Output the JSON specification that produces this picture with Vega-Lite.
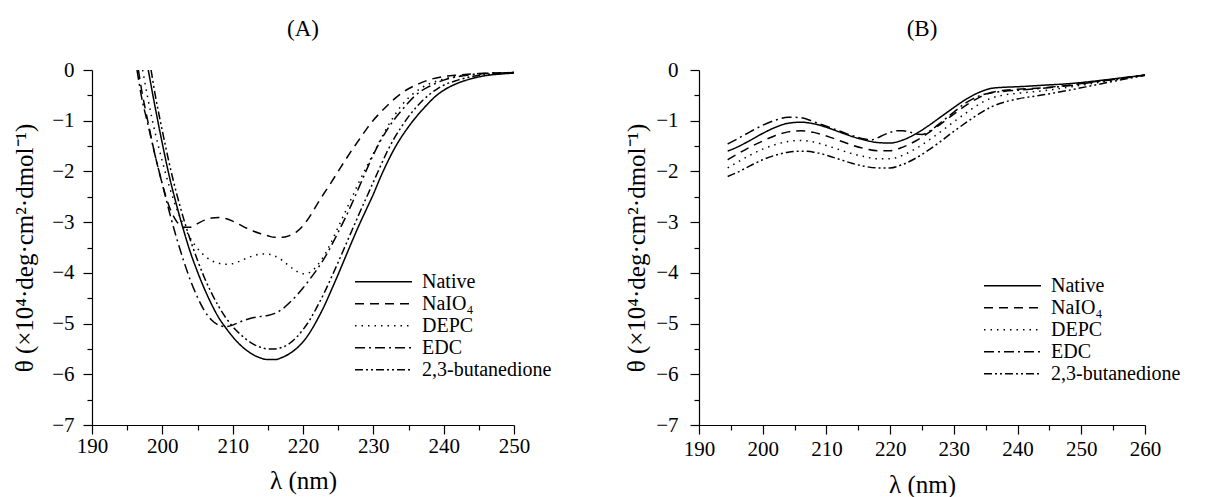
{
  "$schema": "https://vega.github.io/schema/vega-lite/v6.json",
  "padding": {"left": 12, "top": 18, "right": 5, "bottom": 0},
  "config": {
    "font": "Liberation Serif",
    "view": {"stroke": null},
    "axis": {"labelFont": "Liberation Serif", "labelFontSize": 21, "labelColor": "black", "titleFont": "Liberation Serif", "titleFontSize": 25, "titleFontWeight": "normal", "titleColor": "black", "domainColor": "black", "tickColor": "black", "domainWidth": 1.2, "tickWidth": 1.2, "grid": false},
    "legend": {"labelFont": "Liberation Serif", "labelFontSize": 20, "labelColor": "black", "symbolType": "stroke", "symbolSize": 3250, "symbolStrokeWidth": 1.4, "symbolStrokeColor": "black", "labelOffset": 9, "rowPadding": 0, "padding": 0, "clipHeight": 21.5},
    "title": {"font": "Liberation Serif", "fontSize": 23, "fontWeight": "normal", "color": "black", "offset": 18}
  },
  "datasets": {
    "a": [
      {"s": "Native", "wl": 198.0, "t": 0}, {"s": "Native", "wl": 199, "t": -0.75}, {"s": "Native", "wl": 200, "t": -1.45}, {"s": "Native", "wl": 201, "t": -2.1}, {"s": "Native", "wl": 202, "t": -2.65}, {"s": "Native", "wl": 203, "t": -3.15}, {"s": "Native", "wl": 204, "t": -3.6}, {"s": "Native", "wl": 205, "t": -3.98}, {"s": "Native", "wl": 206, "t": -4.32}, {"s": "Native", "wl": 207, "t": -4.62}, {"s": "Native", "wl": 208, "t": -4.88}, {"s": "Native", "wl": 209, "t": -5.08}, {"s": "Native", "wl": 210, "t": -5.26}, {"s": "Native", "wl": 211, "t": -5.41}, {"s": "Native", "wl": 212, "t": -5.53}, {"s": "Native", "wl": 213, "t": -5.62}, {"s": "Native", "wl": 214, "t": -5.68}, {"s": "Native", "wl": 215, "t": -5.71}, {"s": "Native", "wl": 216, "t": -5.71}, {"s": "Native", "wl": 217, "t": -5.67}, {"s": "Native", "wl": 218, "t": -5.6}, {"s": "Native", "wl": 219, "t": -5.5}, {"s": "Native", "wl": 220, "t": -5.36}, {"s": "Native", "wl": 221, "t": -5.17}, {"s": "Native", "wl": 222, "t": -4.93}, {"s": "Native", "wl": 223, "t": -4.66}, {"s": "Native", "wl": 224, "t": -4.35}, {"s": "Native", "wl": 225, "t": -4.03}, {"s": "Native", "wl": 226, "t": -3.7}, {"s": "Native", "wl": 227, "t": -3.37}, {"s": "Native", "wl": 228, "t": -3.05}, {"s": "Native", "wl": 229, "t": -2.75}, {"s": "Native", "wl": 230, "t": -2.45}, {"s": "Native", "wl": 231, "t": -2.12}, {"s": "Native", "wl": 232, "t": -1.82}, {"s": "Native", "wl": 233, "t": -1.55}, {"s": "Native", "wl": 234, "t": -1.32}, {"s": "Native", "wl": 235, "t": -1.12}, {"s": "Native", "wl": 236, "t": -0.94}, {"s": "Native", "wl": 237, "t": -0.78}, {"s": "Native", "wl": 238, "t": -0.63}, {"s": "Native", "wl": 239, "t": -0.5}, {"s": "Native", "wl": 240, "t": -0.4}, {"s": "Native", "wl": 242, "t": -0.26}, {"s": "Native", "wl": 244, "t": -0.17}, {"s": "Native", "wl": 246, "t": -0.11}, {"s": "Native", "wl": 248, "t": -0.08}, {"s": "Native", "wl": 250, "t": -0.06},

      {"s": "NaIO₄", "wl": 196.6, "t": 0}, {"s": "NaIO₄", "wl": 197, "t": -0.35}, {"s": "NaIO₄", "wl": 198, "t": -1.05}, {"s": "NaIO₄", "wl": 199, "t": -1.7}, {"s": "NaIO₄", "wl": 200, "t": -2.25}, {"s": "NaIO₄", "wl": 201, "t": -2.7}, {"s": "NaIO₄", "wl": 202, "t": -2.98}, {"s": "NaIO₄", "wl": 203, "t": -3.1}, {"s": "NaIO₄", "wl": 204, "t": -3.1}, {"s": "NaIO₄", "wl": 205, "t": -3.03}, {"s": "NaIO₄", "wl": 206, "t": -2.96}, {"s": "NaIO₄", "wl": 207, "t": -2.92}, {"s": "NaIO₄", "wl": 208, "t": -2.91}, {"s": "NaIO₄", "wl": 209, "t": -2.93}, {"s": "NaIO₄", "wl": 210, "t": -2.98}, {"s": "NaIO₄", "wl": 211, "t": -3.05}, {"s": "NaIO₄", "wl": 212, "t": -3.12}, {"s": "NaIO₄", "wl": 213, "t": -3.18}, {"s": "NaIO₄", "wl": 214, "t": -3.23}, {"s": "NaIO₄", "wl": 215, "t": -3.27}, {"s": "NaIO₄", "wl": 216, "t": -3.3}, {"s": "NaIO₄", "wl": 217, "t": -3.3}, {"s": "NaIO₄", "wl": 218, "t": -3.27}, {"s": "NaIO₄", "wl": 219, "t": -3.2}, {"s": "NaIO₄", "wl": 220, "t": -3.07}, {"s": "NaIO₄", "wl": 221, "t": -2.88}, {"s": "NaIO₄", "wl": 222, "t": -2.65}, {"s": "NaIO₄", "wl": 223, "t": -2.43}, {"s": "NaIO₄", "wl": 224, "t": -2.22}, {"s": "NaIO₄", "wl": 225, "t": -2.0}, {"s": "NaIO₄", "wl": 226, "t": -1.78}, {"s": "NaIO₄", "wl": 227, "t": -1.57}, {"s": "NaIO₄", "wl": 228, "t": -1.37}, {"s": "NaIO₄", "wl": 229, "t": -1.17}, {"s": "NaIO₄", "wl": 230, "t": -0.99}, {"s": "NaIO₄", "wl": 231, "t": -0.84}, {"s": "NaIO₄", "wl": 232, "t": -0.7}, {"s": "NaIO₄", "wl": 233, "t": -0.57}, {"s": "NaIO₄", "wl": 234, "t": -0.46}, {"s": "NaIO₄", "wl": 235, "t": -0.37}, {"s": "NaIO₄", "wl": 236, "t": -0.3}, {"s": "NaIO₄", "wl": 237, "t": -0.24}, {"s": "NaIO₄", "wl": 238, "t": -0.19}, {"s": "NaIO₄", "wl": 240, "t": -0.13}, {"s": "NaIO₄", "wl": 242, "t": -0.1}, {"s": "NaIO₄", "wl": 245, "t": -0.07}, {"s": "NaIO₄", "wl": 250, "t": -0.05},

      {"s": "DEPC", "wl": 197.2, "t": 0}, {"s": "DEPC", "wl": 198, "t": -0.6}, {"s": "DEPC", "wl": 199, "t": -1.25}, {"s": "DEPC", "wl": 200, "t": -1.8}, {"s": "DEPC", "wl": 201, "t": -2.3}, {"s": "DEPC", "wl": 202, "t": -2.72}, {"s": "DEPC", "wl": 203, "t": -3.05}, {"s": "DEPC", "wl": 204, "t": -3.32}, {"s": "DEPC", "wl": 205, "t": -3.52}, {"s": "DEPC", "wl": 206, "t": -3.66}, {"s": "DEPC", "wl": 207, "t": -3.76}, {"s": "DEPC", "wl": 208, "t": -3.81}, {"s": "DEPC", "wl": 209, "t": -3.83}, {"s": "DEPC", "wl": 210, "t": -3.82}, {"s": "DEPC", "wl": 211, "t": -3.77}, {"s": "DEPC", "wl": 212, "t": -3.71}, {"s": "DEPC", "wl": 213, "t": -3.66}, {"s": "DEPC", "wl": 214, "t": -3.63}, {"s": "DEPC", "wl": 215, "t": -3.63}, {"s": "DEPC", "wl": 216, "t": -3.67}, {"s": "DEPC", "wl": 217, "t": -3.75}, {"s": "DEPC", "wl": 218, "t": -3.86}, {"s": "DEPC", "wl": 219, "t": -3.96}, {"s": "DEPC", "wl": 220, "t": -4.02}, {"s": "DEPC", "wl": 221, "t": -3.99}, {"s": "DEPC", "wl": 222, "t": -3.86}, {"s": "DEPC", "wl": 223, "t": -3.66}, {"s": "DEPC", "wl": 224, "t": -3.4}, {"s": "DEPC", "wl": 225, "t": -3.1}, {"s": "DEPC", "wl": 226, "t": -2.8}, {"s": "DEPC", "wl": 227, "t": -2.5}, {"s": "DEPC", "wl": 228, "t": -2.2}, {"s": "DEPC", "wl": 229, "t": -1.92}, {"s": "DEPC", "wl": 230, "t": -1.65}, {"s": "DEPC", "wl": 231, "t": -1.38}, {"s": "DEPC", "wl": 232, "t": -1.12}, {"s": "DEPC", "wl": 233, "t": -0.9}, {"s": "DEPC", "wl": 234, "t": -0.7}, {"s": "DEPC", "wl": 235, "t": -0.55}, {"s": "DEPC", "wl": 236, "t": -0.43}, {"s": "DEPC", "wl": 237, "t": -0.34}, {"s": "DEPC", "wl": 238, "t": -0.27}, {"s": "DEPC", "wl": 240, "t": -0.18}, {"s": "DEPC", "wl": 242, "t": -0.12}, {"s": "DEPC", "wl": 245, "t": -0.08}, {"s": "DEPC", "wl": 250, "t": -0.05},

      {"s": "EDC", "wl": 196.4, "t": 0}, {"s": "EDC", "wl": 197, "t": -0.5}, {"s": "EDC", "wl": 198, "t": -1.1}, {"s": "EDC", "wl": 199, "t": -1.7}, {"s": "EDC", "wl": 200, "t": -2.25}, {"s": "EDC", "wl": 201, "t": -2.8}, {"s": "EDC", "wl": 202, "t": -3.3}, {"s": "EDC", "wl": 203, "t": -3.75}, {"s": "EDC", "wl": 204, "t": -4.15}, {"s": "EDC", "wl": 205, "t": -4.48}, {"s": "EDC", "wl": 206, "t": -4.75}, {"s": "EDC", "wl": 207, "t": -4.93}, {"s": "EDC", "wl": 208, "t": -5.03}, {"s": "EDC", "wl": 209, "t": -5.06}, {"s": "EDC", "wl": 210, "t": -5.03}, {"s": "EDC", "wl": 211, "t": -4.97}, {"s": "EDC", "wl": 212, "t": -4.92}, {"s": "EDC", "wl": 213, "t": -4.88}, {"s": "EDC", "wl": 214, "t": -4.86}, {"s": "EDC", "wl": 215, "t": -4.84}, {"s": "EDC", "wl": 216, "t": -4.8}, {"s": "EDC", "wl": 217, "t": -4.72}, {"s": "EDC", "wl": 218, "t": -4.6}, {"s": "EDC", "wl": 219, "t": -4.46}, {"s": "EDC", "wl": 220, "t": -4.3}, {"s": "EDC", "wl": 221, "t": -4.12}, {"s": "EDC", "wl": 222, "t": -3.93}, {"s": "EDC", "wl": 223, "t": -3.72}, {"s": "EDC", "wl": 224, "t": -3.47}, {"s": "EDC", "wl": 225, "t": -3.2}, {"s": "EDC", "wl": 226, "t": -2.92}, {"s": "EDC", "wl": 227, "t": -2.62}, {"s": "EDC", "wl": 228, "t": -2.3}, {"s": "EDC", "wl": 229, "t": -1.98}, {"s": "EDC", "wl": 230, "t": -1.67}, {"s": "EDC", "wl": 231, "t": -1.4}, {"s": "EDC", "wl": 232, "t": -1.17}, {"s": "EDC", "wl": 233, "t": -0.97}, {"s": "EDC", "wl": 234, "t": -0.8}, {"s": "EDC", "wl": 235, "t": -0.64}, {"s": "EDC", "wl": 236, "t": -0.5}, {"s": "EDC", "wl": 238, "t": -0.32}, {"s": "EDC", "wl": 240, "t": -0.2}, {"s": "EDC", "wl": 242, "t": -0.13}, {"s": "EDC", "wl": 245, "t": -0.08}, {"s": "EDC", "wl": 250, "t": -0.05},

      {"s": "2,3-butanedione", "wl": 198.4, "t": 0}, {"s": "2,3-butanedione", "wl": 199, "t": -0.5}, {"s": "2,3-butanedione", "wl": 200, "t": -1.2}, {"s": "2,3-butanedione", "wl": 201, "t": -1.85}, {"s": "2,3-butanedione", "wl": 202, "t": -2.42}, {"s": "2,3-butanedione", "wl": 203, "t": -2.92}, {"s": "2,3-butanedione", "wl": 204, "t": -3.36}, {"s": "2,3-butanedione", "wl": 205, "t": -3.75}, {"s": "2,3-butanedione", "wl": 206, "t": -4.1}, {"s": "2,3-butanedione", "wl": 207, "t": -4.4}, {"s": "2,3-butanedione", "wl": 208, "t": -4.66}, {"s": "2,3-butanedione", "wl": 209, "t": -4.88}, {"s": "2,3-butanedione", "wl": 210, "t": -5.06}, {"s": "2,3-butanedione", "wl": 211, "t": -5.2}, {"s": "2,3-butanedione", "wl": 212, "t": -5.32}, {"s": "2,3-butanedione", "wl": 213, "t": -5.41}, {"s": "2,3-butanedione", "wl": 214, "t": -5.47}, {"s": "2,3-butanedione", "wl": 215, "t": -5.5}, {"s": "2,3-butanedione", "wl": 216, "t": -5.5}, {"s": "2,3-butanedione", "wl": 217, "t": -5.47}, {"s": "2,3-butanedione", "wl": 218, "t": -5.4}, {"s": "2,3-butanedione", "wl": 219, "t": -5.28}, {"s": "2,3-butanedione", "wl": 220, "t": -5.12}, {"s": "2,3-butanedione", "wl": 221, "t": -4.92}, {"s": "2,3-butanedione", "wl": 222, "t": -4.67}, {"s": "2,3-butanedione", "wl": 223, "t": -4.4}, {"s": "2,3-butanedione", "wl": 224, "t": -4.1}, {"s": "2,3-butanedione", "wl": 225, "t": -3.79}, {"s": "2,3-butanedione", "wl": 226, "t": -3.47}, {"s": "2,3-butanedione", "wl": 227, "t": -3.15}, {"s": "2,3-butanedione", "wl": 228, "t": -2.83}, {"s": "2,3-butanedione", "wl": 229, "t": -2.52}, {"s": "2,3-butanedione", "wl": 230, "t": -2.21}, {"s": "2,3-butanedione", "wl": 231, "t": -1.9}, {"s": "2,3-butanedione", "wl": 232, "t": -1.6}, {"s": "2,3-butanedione", "wl": 233, "t": -1.34}, {"s": "2,3-butanedione", "wl": 234, "t": -1.12}, {"s": "2,3-butanedione", "wl": 235, "t": -0.92}, {"s": "2,3-butanedione", "wl": 236, "t": -0.75}, {"s": "2,3-butanedione", "wl": 237, "t": -0.6}, {"s": "2,3-butanedione", "wl": 238, "t": -0.48}, {"s": "2,3-butanedione", "wl": 239, "t": -0.38}, {"s": "2,3-butanedione", "wl": 240, "t": -0.3}, {"s": "2,3-butanedione", "wl": 242, "t": -0.2}, {"s": "2,3-butanedione", "wl": 244, "t": -0.13}, {"s": "2,3-butanedione", "wl": 246, "t": -0.09}, {"s": "2,3-butanedione", "wl": 248, "t": -0.07}, {"s": "2,3-butanedione", "wl": 250, "t": -0.05}
    ],
    "b": [
      {"s": "Native", "wl": 194.5, "t": -1.6}, {"s": "Native", "wl": 196, "t": -1.52}, {"s": "Native", "wl": 198, "t": -1.39}, {"s": "Native", "wl": 200, "t": -1.25}, {"s": "Native", "wl": 202, "t": -1.13}, {"s": "Native", "wl": 204, "t": -1.05}, {"s": "Native", "wl": 206, "t": -1.03}, {"s": "Native", "wl": 208, "t": -1.06}, {"s": "Native", "wl": 210, "t": -1.13}, {"s": "Native", "wl": 212, "t": -1.22}, {"s": "Native", "wl": 214, "t": -1.31}, {"s": "Native", "wl": 216, "t": -1.38}, {"s": "Native", "wl": 218, "t": -1.43}, {"s": "Native", "wl": 220, "t": -1.44}, {"s": "Native", "wl": 222, "t": -1.38}, {"s": "Native", "wl": 224, "t": -1.26}, {"s": "Native", "wl": 226, "t": -1.1}, {"s": "Native", "wl": 228, "t": -0.92}, {"s": "Native", "wl": 230, "t": -0.74}, {"s": "Native", "wl": 232, "t": -0.57}, {"s": "Native", "wl": 234, "t": -0.44}, {"s": "Native", "wl": 236, "t": -0.36}, {"s": "Native", "wl": 238, "t": -0.34}, {"s": "Native", "wl": 240, "t": -0.33}, {"s": "Native", "wl": 244, "t": -0.3}, {"s": "Native", "wl": 248, "t": -0.27}, {"s": "Native", "wl": 252, "t": -0.22}, {"s": "Native", "wl": 256, "t": -0.16}, {"s": "Native", "wl": 260, "t": -0.1},

      {"s": "NaIO₄", "wl": 194.5, "t": -1.77}, {"s": "NaIO₄", "wl": 196, "t": -1.66}, {"s": "NaIO₄", "wl": 198, "t": -1.52}, {"s": "NaIO₄", "wl": 200, "t": -1.4}, {"s": "NaIO₄", "wl": 202, "t": -1.29}, {"s": "NaIO₄", "wl": 204, "t": -1.22}, {"s": "NaIO₄", "wl": 206, "t": -1.2}, {"s": "NaIO₄", "wl": 208, "t": -1.23}, {"s": "NaIO₄", "wl": 210, "t": -1.3}, {"s": "NaIO₄", "wl": 212, "t": -1.39}, {"s": "NaIO₄", "wl": 214, "t": -1.48}, {"s": "NaIO₄", "wl": 216, "t": -1.55}, {"s": "NaIO₄", "wl": 218, "t": -1.59}, {"s": "NaIO₄", "wl": 220, "t": -1.59}, {"s": "NaIO₄", "wl": 222, "t": -1.52}, {"s": "NaIO₄", "wl": 224, "t": -1.4}, {"s": "NaIO₄", "wl": 226, "t": -1.24}, {"s": "NaIO₄", "wl": 228, "t": -1.06}, {"s": "NaIO₄", "wl": 230, "t": -0.87}, {"s": "NaIO₄", "wl": 232, "t": -0.69}, {"s": "NaIO₄", "wl": 234, "t": -0.54}, {"s": "NaIO₄", "wl": 236, "t": -0.44}, {"s": "NaIO₄", "wl": 238, "t": -0.4}, {"s": "NaIO₄", "wl": 240, "t": -0.38}, {"s": "NaIO₄", "wl": 244, "t": -0.35}, {"s": "NaIO₄", "wl": 248, "t": -0.3}, {"s": "NaIO₄", "wl": 252, "t": -0.23}, {"s": "NaIO₄", "wl": 256, "t": -0.17}, {"s": "NaIO₄", "wl": 260, "t": -0.1},

      {"s": "DEPC", "wl": 194.5, "t": -1.93}, {"s": "DEPC", "wl": 196, "t": -1.82}, {"s": "DEPC", "wl": 198, "t": -1.68}, {"s": "DEPC", "wl": 200, "t": -1.56}, {"s": "DEPC", "wl": 202, "t": -1.47}, {"s": "DEPC", "wl": 204, "t": -1.41}, {"s": "DEPC", "wl": 206, "t": -1.39}, {"s": "DEPC", "wl": 208, "t": -1.42}, {"s": "DEPC", "wl": 210, "t": -1.49}, {"s": "DEPC", "wl": 212, "t": -1.57}, {"s": "DEPC", "wl": 214, "t": -1.65}, {"s": "DEPC", "wl": 216, "t": -1.71}, {"s": "DEPC", "wl": 218, "t": -1.75}, {"s": "DEPC", "wl": 220, "t": -1.75}, {"s": "DEPC", "wl": 222, "t": -1.68}, {"s": "DEPC", "wl": 224, "t": -1.55}, {"s": "DEPC", "wl": 226, "t": -1.39}, {"s": "DEPC", "wl": 228, "t": -1.21}, {"s": "DEPC", "wl": 230, "t": -1.02}, {"s": "DEPC", "wl": 232, "t": -0.84}, {"s": "DEPC", "wl": 234, "t": -0.67}, {"s": "DEPC", "wl": 236, "t": -0.55}, {"s": "DEPC", "wl": 238, "t": -0.49}, {"s": "DEPC", "wl": 240, "t": -0.46}, {"s": "DEPC", "wl": 244, "t": -0.41}, {"s": "DEPC", "wl": 248, "t": -0.34}, {"s": "DEPC", "wl": 252, "t": -0.26}, {"s": "DEPC", "wl": 256, "t": -0.18}, {"s": "DEPC", "wl": 260, "t": -0.1},

      {"s": "EDC", "wl": 194.5, "t": -1.46}, {"s": "EDC", "wl": 196, "t": -1.36}, {"s": "EDC", "wl": 198, "t": -1.22}, {"s": "EDC", "wl": 200, "t": -1.09}, {"s": "EDC", "wl": 202, "t": -0.99}, {"s": "EDC", "wl": 204, "t": -0.93}, {"s": "EDC", "wl": 206, "t": -0.94}, {"s": "EDC", "wl": 208, "t": -1.02}, {"s": "EDC", "wl": 210, "t": -1.11}, {"s": "EDC", "wl": 212, "t": -1.2}, {"s": "EDC", "wl": 214, "t": -1.29}, {"s": "EDC", "wl": 216, "t": -1.36}, {"s": "EDC", "wl": 217, "t": -1.38}, {"s": "EDC", "wl": 218, "t": -1.34}, {"s": "EDC", "wl": 219, "t": -1.28}, {"s": "EDC", "wl": 220, "t": -1.23}, {"s": "EDC", "wl": 221, "t": -1.2}, {"s": "EDC", "wl": 222, "t": -1.2}, {"s": "EDC", "wl": 223, "t": -1.22}, {"s": "EDC", "wl": 224, "t": -1.26}, {"s": "EDC", "wl": 225, "t": -1.27}, {"s": "EDC", "wl": 226, "t": -1.22}, {"s": "EDC", "wl": 228, "t": -1.03}, {"s": "EDC", "wl": 230, "t": -0.83}, {"s": "EDC", "wl": 232, "t": -0.64}, {"s": "EDC", "wl": 234, "t": -0.51}, {"s": "EDC", "wl": 236, "t": -0.45}, {"s": "EDC", "wl": 238, "t": -0.42}, {"s": "EDC", "wl": 240, "t": -0.4}, {"s": "EDC", "wl": 244, "t": -0.36}, {"s": "EDC", "wl": 248, "t": -0.31}, {"s": "EDC", "wl": 252, "t": -0.24}, {"s": "EDC", "wl": 256, "t": -0.17}, {"s": "EDC", "wl": 260, "t": -0.1},

      {"s": "2,3-butanedione", "wl": 194.5, "t": -2.1}, {"s": "2,3-butanedione", "wl": 196, "t": -2.02}, {"s": "2,3-butanedione", "wl": 198, "t": -1.89}, {"s": "2,3-butanedione", "wl": 200, "t": -1.77}, {"s": "2,3-butanedione", "wl": 202, "t": -1.68}, {"s": "2,3-butanedione", "wl": 204, "t": -1.62}, {"s": "2,3-butanedione", "wl": 206, "t": -1.6}, {"s": "2,3-butanedione", "wl": 208, "t": -1.62}, {"s": "2,3-butanedione", "wl": 210, "t": -1.68}, {"s": "2,3-butanedione", "wl": 212, "t": -1.76}, {"s": "2,3-butanedione", "wl": 214, "t": -1.84}, {"s": "2,3-butanedione", "wl": 216, "t": -1.9}, {"s": "2,3-butanedione", "wl": 218, "t": -1.93}, {"s": "2,3-butanedione", "wl": 220, "t": -1.93}, {"s": "2,3-butanedione", "wl": 222, "t": -1.86}, {"s": "2,3-butanedione", "wl": 224, "t": -1.74}, {"s": "2,3-butanedione", "wl": 226, "t": -1.58}, {"s": "2,3-butanedione", "wl": 228, "t": -1.4}, {"s": "2,3-butanedione", "wl": 230, "t": -1.21}, {"s": "2,3-butanedione", "wl": 232, "t": -1.03}, {"s": "2,3-butanedione", "wl": 234, "t": -0.86}, {"s": "2,3-butanedione", "wl": 236, "t": -0.72}, {"s": "2,3-butanedione", "wl": 238, "t": -0.63}, {"s": "2,3-butanedione", "wl": 240, "t": -0.57}, {"s": "2,3-butanedione", "wl": 244, "t": -0.49}, {"s": "2,3-butanedione", "wl": 248, "t": -0.4}, {"s": "2,3-butanedione", "wl": 252, "t": -0.3}, {"s": "2,3-butanedione", "wl": 256, "t": -0.2}, {"s": "2,3-butanedione", "wl": 260, "t": -0.11}
    ]
  },
  "spacing": 72,
  "resolve": {"scale": {"x": "independent", "y": "independent", "strokeDash": "independent"}, "legend": {"strokeDash": "independent"}},
  "hconcat": [
    {
      "width": 422,
      "height": 355,
      "title": {"text": "(A)"},
      "data": {"name": "a"},
      "mark": {"type": "line", "color": "black", "strokeWidth": 1.5, "interpolate": "monotone", "clip": true},
      "encoding": {
        "x": {"field": "wl", "type": "quantitative", "scale": {"domain": [190, 250], "nice": false, "zero": false},
          "axis": {"title": "λ (nm)", "values": [190, 195, 200, 205, 210, 215, 220, 225, 230, 235, 240, 245, 250], "labelExpr": "datum.value % 10 === 0 ? datum.label : ''", "tickSize": {"condition": {"test": "datum.value % 10 === 0", "value": 9}, "value": 5}, "labelPadding": 1, "titlePadding": 12, "labelFlush": false}},
        "y": {"field": "t", "type": "quantitative", "scale": {"domain": [-7, 0], "nice": false, "zero": false},
          "axis": {"title": "θ (×10⁴·deg·cm²·dmol⁻¹)", "values": [0, -0.5, -1, -1.5, -2, -2.5, -3, -3.5, -4, -4.5, -5, -5.5, -6, -6.5, -7], "labelExpr": "datum.value % 1 === 0 ? format(datum.value, 'd') : ''", "tickSize": {"condition": {"test": "datum.value % 1 === 0", "value": 9}, "value": 5}, "labelPadding": 9, "titlePadding": 14, "labelFlush": false}},
        "strokeDash": {"field": "s", "type": "nominal", "scale": {"domain": ["Native", "NaIO₄", "DEPC", "EDC", "2,3-butanedione"], "range": [[1, 0], [9, 6], [1.5, 5], [10, 4, 2, 4], [8, 3, 2, 3, 2, 3]]},
          "legend": {"title": null, "orient": "none", "legendX": 262, "legendY": 201}}
      }
    },
    {
      "width": 446,
      "height": 355,
      "title": {"text": "(B)"},
      "data": {"name": "b"},
      "mark": {"type": "line", "color": "black", "strokeWidth": 1.5, "interpolate": "monotone", "clip": true},
      "encoding": {
        "x": {"field": "wl", "type": "quantitative", "scale": {"domain": [190, 260], "nice": false, "zero": false},
          "axis": {"title": "λ (nm)", "values": [190, 195, 200, 205, 210, 215, 220, 225, 230, 235, 240, 245, 250, 255, 260], "labelExpr": "datum.value % 10 === 0 ? datum.label : ''", "tickSize": {"condition": {"test": "datum.value % 10 === 0", "value": 9}, "value": 5}, "labelPadding": 4, "titlePadding": 13, "labelFlush": false}},
        "y": {"field": "t", "type": "quantitative", "scale": {"domain": [-7, 0], "nice": false, "zero": false},
          "axis": {"title": "θ (×10⁴·deg·cm²·dmol⁻¹)", "values": [0, -0.5, -1, -1.5, -2, -2.5, -3, -3.5, -4, -4.5, -5, -5.5, -6, -6.5, -7], "labelExpr": "datum.value % 1 === 0 ? format(datum.value, 'd') : ''", "tickSize": {"condition": {"test": "datum.value % 1 === 0", "value": 9}, "value": 5}, "labelPadding": 12, "titlePadding": 6, "labelFlush": false}},
        "strokeDash": {"field": "s", "type": "nominal", "scale": {"domain": ["Native", "NaIO₄", "DEPC", "EDC", "2,3-butanedione"], "range": [[1, 0], [9, 6], [1.5, 5], [10, 4, 2, 4], [8, 3, 2, 3, 2, 3]]},
          "legend": {"title": null, "orient": "none", "legendX": 284, "legendY": 205}}
      }
    }
  ]
}
